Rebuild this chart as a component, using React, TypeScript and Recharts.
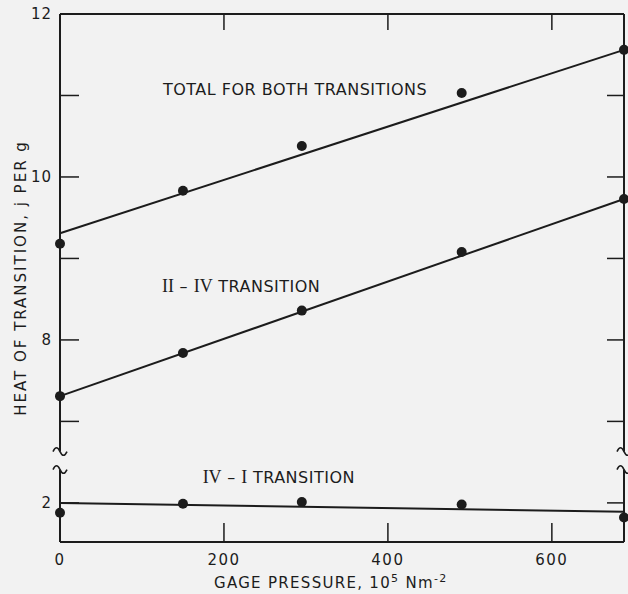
import { ComposedChart, Line, XAxis, YAxis, ReferenceDot, ReferenceLine } from "recharts";

// gage pressure, 10^5 N m^-2
const pressure = [0, 150, 295, 490, 688];
// measured heats of transition, j per g
const totalHeat = [9.18, 9.83, 10.38, 11.03, 11.56];
const heatIIIV = [7.31, 7.84, 8.36, 9.08, 9.73];
const heatIVI = [1.88, 1.99, 2.01, 1.98, 1.82];
// fitted straight lines, ends at 0 and 688
const fitEnds = [0, 688];
const fitTotal = [9.31, 11.56];
const fitIIIV = [7.31, 9.73];
const fitIVI = [2.0, 1.89];

const xTicks = [0, 200, 400, 600];
const yTicks = [2, 7, 8, 9, 10, 11, 12];
const yLabeled = [2, 8, 10, 12];

const INK = "#1c1c1c";
const BG = "#f2f2f2";
const FONT = "DejaVu Sans";

const W = 628;
const H = 594;
const TOP = 14;
const X_AXIS_H = 52;
const PLOT_H = H - TOP - X_AXIS_H;

// broken y axis: upper part is shifted down by OFFSET
const OFFSET = 4;
const Y_MIN = 1.52;
const Y_MAX = 8;
const toPlot = (v: number) => (v > 5 ? v - OFFSET : v);
const fromPlot = (p: number) => (p > 2.6 ? p + OFFSET : p);

const points = (ys: number[]) => pressure.map((x, i) => ({ x, y: toPlot(ys[i]) }));
const fit = (ys: number[]) => fitEnds.map((x, i) => ({ x, y: toPlot(ys[i]) }));

function LeftTick({ x, y, payload }: any) {
  const v = Math.round(fromPlot(payload.value));
  return (
    <g>
      <line x1={x} x2={x + 19} y1={y} y2={y} stroke={INK} strokeWidth={1.5} />
      {yLabeled.includes(v) && (
        <text x={x - 8} y={y} dy={5} textAnchor="end" fontFamily={FONT} fontSize={15} letterSpacing={1} fill={INK}>
          {v}
        </text>
      )}
    </g>
  );
}

function RightTick({ x, y }: any) {
  return <line x1={x} x2={x - 17} y1={y} y2={y} stroke={INK} strokeWidth={1.5} />;
}

// bottom tick: inward mark on the x axis, label below, and the matching mark on the top frame
function BottomTick({ x, y, payload }: any) {
  const top = Number(y) - PLOT_H;
  return (
    <g>
      {payload.value !== 0 && <line x1={x} x2={x} y1={y} y2={Number(y) - 19} stroke={INK} strokeWidth={1.5} />}
      {payload.value !== 0 && <line x1={x} x2={x} y1={top} y2={top + 16} stroke={INK} strokeWidth={1.5} />}
      <text x={x} y={Number(y) + 23} textAnchor="middle" fontFamily={FONT} fontSize={15} letterSpacing={1.5} fill={INK}>
        {payload.value}
      </text>
    </g>
  );
}

function BreakMark({ cx, cy }: any) {
  const wave = (y: number) => `M ${cx - 7} ${y} c 2.5 -5 4.5 -5 7 0 s 4.5 5 7 0`;
  return (
    <g>
      <rect x={cx - 5} y={cy - 9} width={10} height={18} fill={BG} />
      <path d={wave(cy - 9)} fill="none" stroke={INK} strokeWidth={1.6} />
      <path d={wave(cy + 9)} fill="none" stroke={INK} strokeWidth={1.6} />
    </g>
  );
}

const caption = (content: React.ReactNode) => ({ cx, cy }: any) => (
  <text x={cx} y={cy} dy={6} fontFamily={FONT} fontSize={16} letterSpacing={0.5} fill={INK}>
    {content}
  </text>
);

const roman = (s: string) => (
  <tspan fontFamily="Liberation Serif" fontSize={18} letterSpacing={0}>
    {s}
  </tspan>
);

export default function App() {
  const dot = { r: 5, fill: INK, stroke: INK, strokeWidth: 0 };
  return (
    <div style={{ position: "absolute", left: 0, top: 0, width: W, height: H, background: BG }}>
      <ComposedChart width={W} height={H} margin={{ top: TOP, right: 0, bottom: 0, left: 0 }}>
        <XAxis
          dataKey="x"
          type="number"
          domain={[0, 688]}
          ticks={xTicks}
          interval={0}
          height={X_AXIS_H}
          tickSize={0}
          tickMargin={0}
          tick={<BottomTick />}
          axisLine={{ stroke: INK, strokeWidth: 2 }}
          label={({ viewBox }: any) => (
            <text
              x={viewBox.x + viewBox.width * 0.48}
              y={viewBox.y + 46}
              textAnchor="middle"
              fontFamily={FONT}
              fontSize={15}
              letterSpacing={1.3}
              fill={INK}
            >
              GAGE PRESSURE, 10
              <tspan dy={-6} fontSize={11}>5</tspan>
              <tspan dy={6}> Nm</tspan>
              <tspan dy={-6} fontSize={11}>-2</tspan>
            </text>
          )}
        />
        <YAxis
          dataKey="y"
          type="number"
          domain={[Y_MIN, Y_MAX]}
          ticks={yTicks.map(toPlot)}
          interval={0}
          width={60}
          tickSize={0}
          tickMargin={0}
          tick={<LeftTick />}
          axisLine={{ stroke: INK, strokeWidth: 2 }}
          label={({ viewBox }: any) => {
            const cy = viewBox.y + viewBox.height / 2;
            return (
              <text
                x={21}
                y={cy}
                transform={`rotate(-90 21 ${cy})`}
                textAnchor="middle"
                dominantBaseline="central"
                fontFamily={FONT}
                fontSize={15}
                letterSpacing={2}
                fill={INK}
              >
                HEAT OF TRANSITION, j PER g
              </text>
            );
          }}
        />
        <YAxis
          yAxisId="r"
          dataKey="y"
          orientation="right"
          type="number"
          domain={[Y_MIN, Y_MAX]}
          ticks={yTicks.map(toPlot)}
          interval={0}
          width={4}
          tickSize={0}
          tickMargin={0}
          tick={<RightTick />}
          axisLine={{ stroke: INK, strokeWidth: 2 }}
        />

        <Line data={fit(fitTotal)} dataKey="y" stroke={INK} strokeWidth={2} dot={false} isAnimationActive={false} />
        <Line data={fit(fitIIIV)} dataKey="y" stroke={INK} strokeWidth={2} dot={false} isAnimationActive={false} />
        <Line data={fit(fitIVI)} dataKey="y" stroke={INK} strokeWidth={2} dot={false} isAnimationActive={false} />
        <Line data={points(totalHeat)} dataKey="y" stroke="none" dot={dot} activeDot={false} isAnimationActive={false} />
        <Line data={points(heatIIIV)} dataKey="y" stroke="none" dot={dot} activeDot={false} isAnimationActive={false} />
        <Line data={points(heatIVI)} dataKey="y" stroke="none" dot={dot} activeDot={false} isAnimationActive={false} />
        {/* invisible copy so the right frame axis gets data and draws its ticks */}
        <Line
          yAxisId="r"
          data={fit(fitTotal)}
          dataKey="y"
          stroke="none"
          dot={false}
          activeDot={false}
          isAnimationActive={false}
        />

        {/* top frame line */}
        <ReferenceLine y={Y_MAX} stroke={INK} strokeWidth={2} ifOverflow="visible" />

        <ReferenceDot x={0} y={2.52} r={0} ifOverflow="visible" shape={<BreakMark />} />
        <ReferenceDot x={688} y={2.52} r={0} ifOverflow="visible" shape={<BreakMark />} />

        <ReferenceDot x={125.6} y={toPlot(11.08)} r={0} ifOverflow="visible" shape={caption("TOTAL FOR BOTH TRANSITIONS")} />
        <ReferenceDot
          x={124.4}
          y={toPlot(8.66)}
          r={0}
          ifOverflow="visible"
          shape={caption(
            <>
              {roman("II")} – {roman("IV")} TRANSITION
            </>
          )}
        />
        <ReferenceDot
          x={174}
          y={2.32}
          r={0}
          ifOverflow="visible"
          shape={caption(
            <>
              {roman("IV")} – {roman("I")} TRANSITION
            </>
          )}
        />
      </ComposedChart>
    </div>
  );
}
